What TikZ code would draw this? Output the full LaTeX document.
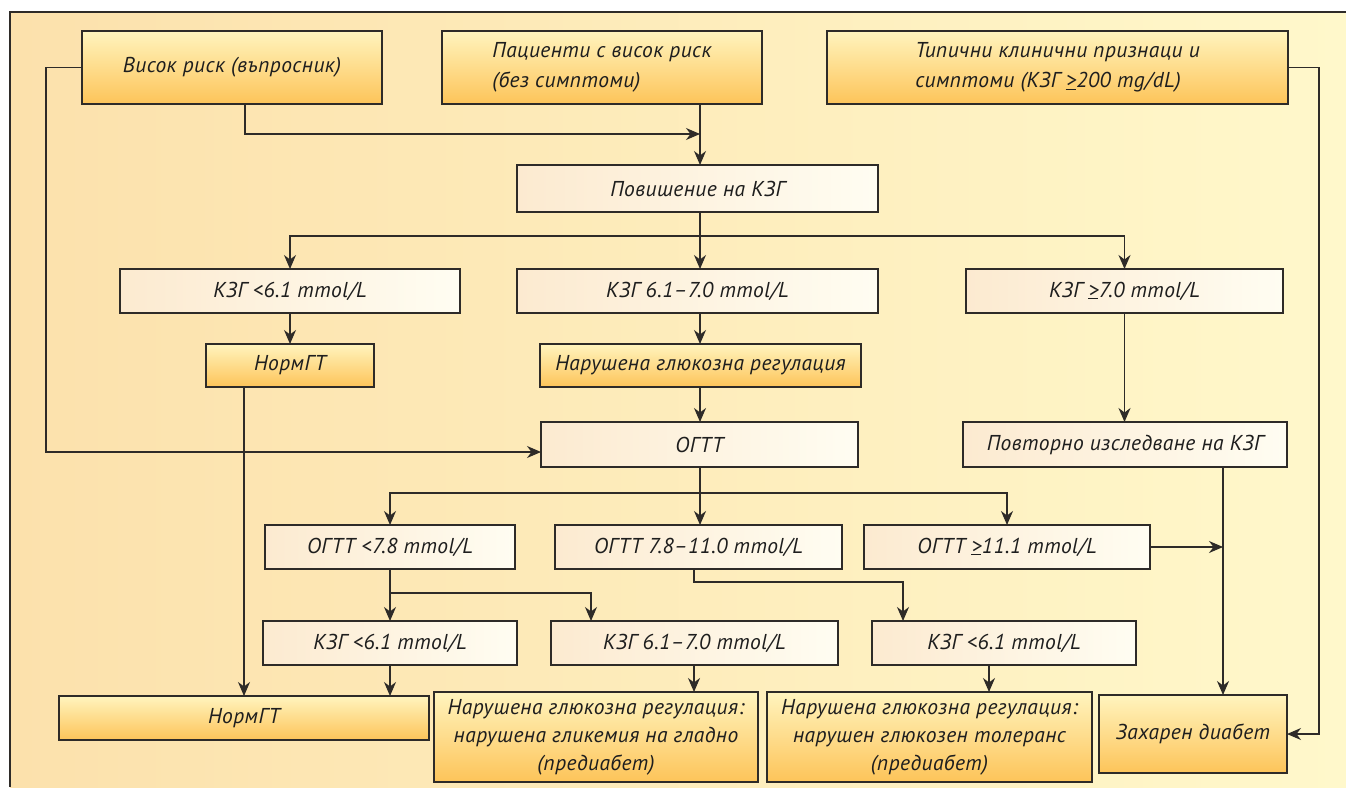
\documentclass[tikz,border=0pt]{standalone}
\usepackage{fontspec}
\setmainfont{PT Sans}[LetterSpace=2]
\usetikzlibrary{arrows.meta}
\definecolor{bgL}{HTML}{FCE1AC}
\definecolor{bgR}{HTML}{FFF8CB}
\definecolor{oTop}{HTML}{FFF4BE}
\definecolor{oBot}{HTML}{FDC459}
\definecolor{lL}{HTML}{FCEAD0}
\definecolor{lR}{HTML}{FFFDF2}
\definecolor{lineC}{HTML}{2E2B28}
\definecolor{txtC}{HTML}{1E1E1E}
\newsavebox\gqbox
\newcommand\gequ{\sbox\gqbox{>}\rlap{\kern-0.5pt\raisebox{-2.2pt}{\rule{\wd\gqbox}{1.1pt}}}\usebox\gqbox\relax}
\begin{document}
\begin{tikzpicture}[x=1pt,y=-1pt,
  boxbase/.style={font=\itshape\fontsize{21.5}{28}\selectfont, text=txtC, inner sep=0pt, outer sep=0pt,
    draw=lineC, line width=1.1pt, anchor=north west, align=center},
  obox/.style={boxbase, top color=oTop, bottom color=oBot},
  lbox/.style={boxbase, left color=lL, right color=lR},
  topbox/.style={obox, font=\itshape\fontsize{21.5}{30}\selectfont, align=left},
  arr/.style={draw=lineC, line width=1.2pt, -{Stealth[length=14pt,width=12pt,inset=4.5pt]}},
  ln/.style={draw=lineC, line width=1.2pt}]
\useasboundingbox (0,0) rectangle (1346,787);
% background panel
\fill[left color=bgL, right color=bgR] (10,12) rectangle (1346,787);
\draw[ln] (10,787) -- (10,12) -- (1346,12);

% top row
\node[obox, minimum width=300pt, minimum height=73pt] (b1) at (82,31) {Висок риск (въпросник)};
\node[topbox, minimum width=320pt, minimum height=73pt] (b2) at (442,31) {Пациенти с висок риск\\(без симптоми)};
\node[topbox, minimum width=461pt, minimum height=73pt] (b3) at (827,31) {Типични клинични признаци и\\симптоми (КЗГ \gequ{}200 mg/dL)};

\node[lbox, minimum width=361pt, minimum height=47pt] (povish) at (517,165) {Повишение на КЗГ};

\node[lbox, minimum width=340pt, minimum height=44pt] (k1) at (120,269) {КЗГ <6.1 mmol/L};
\node[lbox, minimum width=361pt, minimum height=44pt] (k2) at (517,269) {КЗГ 6.1–7.0 mmol/L};
\node[lbox, minimum width=317pt, minimum height=44pt] (k3) at (966,269) {КЗГ \gequ{}7.0 mmol/L};

\node[obox, minimum width=168pt, minimum height=43pt] (n1) at (206,344) {НормГТ};
\node[obox, minimum width=321pt, minimum height=43pt] (nr) at (540,344) {Нарушена глюкозна регулация};

\node[lbox, minimum width=317pt, minimum height=45pt] (ogtt) at (541,422) {ОГТТ};
\node[lbox, minimum width=324pt, minimum height=45pt] (pov) at (963,422) {Повторно изследване на КЗГ};

\node[lbox, minimum width=250pt, minimum height=44pt] (o1) at (265,525) {ОГТТ <7.8 mmol/L};
\node[lbox, minimum width=287pt, minimum height=44pt] (o2) at (555,525) {ОГТТ 7.8–11.0 mmol/L};
\node[lbox, minimum width=286pt, minimum height=44pt] (o3) at (864,525) {ОГТТ \gequ{}11.1 mmol/L};

\node[lbox, minimum width=254pt, minimum height=44pt] (g1) at (263,621) {КЗГ <6.1 mmol/L};
\node[lbox, minimum width=287pt, minimum height=44pt] (g2) at (551,621) {КЗГ 6.1–7.0 mmol/L};
\node[lbox, minimum width=264pt, minimum height=44pt] (g3) at (872,621) {КЗГ <6.1 mmol/L};

\node[obox, minimum width=370pt, minimum height=44pt] (normb) at (59,696) {НормГТ};
\node[obox, minimum width=324pt, minimum height=90pt] (p1) at (434,692) {Нарушена глюкозна регулация:\\нарушена гликемия на гладно\\(предиабет)};
\node[obox, minimum width=325pt, minimum height=90pt] (p2) at (767,692) {Нарушена глюкозна регулация:\\нарушен глюкозен толеранс\\(предиабет)};
\node[obox, minimum width=188pt, minimum height=78pt] (dm) at (1099,695) {Захарен диабет};

% helper coordinates
\coordinate (lft) at (46,452);
\coordinate (j1) at (700,134);
\coordinate (r1) at (700,236);
\coordinate (r2) at (700,493);
\coordinate (r3) at (390,593);
\coordinate (r4) at (694,582);
\coordinate (dx) at (1223,0);
\coordinate (rx) at (1319,0);
\coordinate (g2in) at (591,0);
\coordinate (g3in) at (903,0);
\coordinate (g3out) at (989,0);

% connectors
\draw[arr] (b1.west) -| (lft) -- (lft -| ogtt.west);
\draw[arr] ([xshift=13pt]b1.south) |- (j1);
\draw[arr] (b2.south -| j1) -- (povish.north -| j1);
\draw[ln] (povish.south -| r1) -- (r1);
\draw[arr] (r1) -| (k1.north);
\draw[arr] (r1) -- (k2.north -| r1);
\draw[arr] (r1) -| (k3.north);
\draw[arr] (k1.south) -- (n1.north -| k1.south);
\draw[arr] (k2.south -| r1) -- (nr.north -| r1);
\draw[arr] (nr.south -| r1) -- (ogtt.north -| r1);
\draw[arr] (k3.south) -- (pov.north -| k3.south);
\draw[arr] (n1.south -| normb.north) -- (normb.north);
\draw[arr] (pov.south -| dx) -- (dm.north -| dx);
\draw[arr] (b3.east) -| (rx |- dm.east) -- (dm.east);
\draw[ln] (ogtt.south -| r2) -- (r2);
\draw[arr] (r2) -| (o1.north);
\draw[arr] (r2) -- (o2.north -| r2);
\draw[arr] (r2) -| (o3.north);
\draw[arr] (o3.east) -- (o3.east -| dx);
\draw[arr] (o1.south) -- (g1.north -| o1.south);
\draw[arr] (r3) -| (g2in |- g2.north);
\draw[arr] (o2.south -| r4) -- (r4) -| (g3in |- g3.north);
\draw[arr] (g1.south) -- (g1.south |- normb.north);
\draw[arr] (g2.south -| r4) -- (p1.north -| r4);
\draw[arr] (g3.south -| g3out) -- (p2.north -| g3out);
\end{tikzpicture}
\end{document}
